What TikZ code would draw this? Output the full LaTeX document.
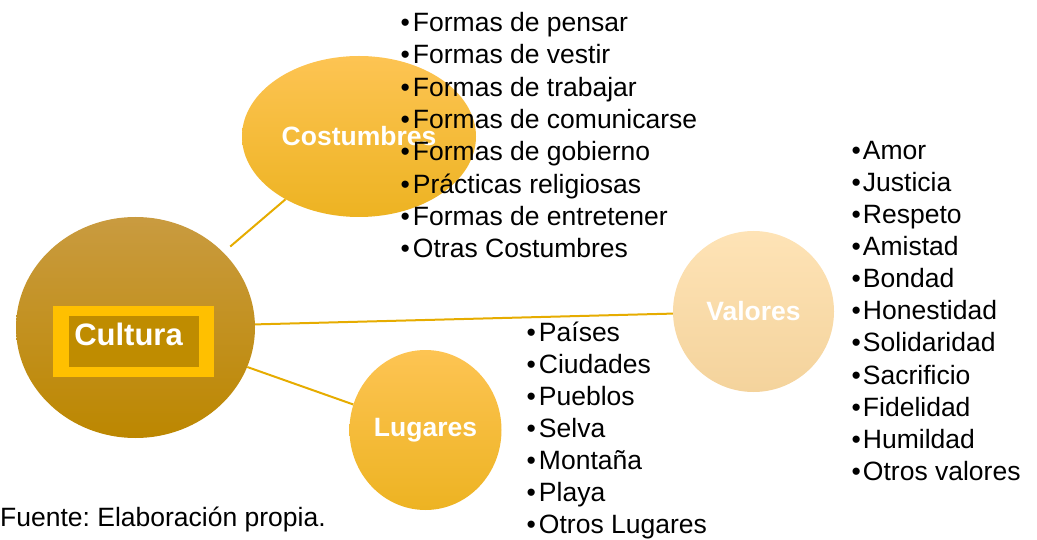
\documentclass[tikz,border=0pt]{standalone}
\usepackage{fontspec}
\setmainfont{Liberation Sans}
\usetikzlibrary{shapes.geometric}
\definecolor{goldline}{HTML}{E6AC00}
\definecolor{culttop}{HTML}{C99B40}
\definecolor{cultbot}{HTML}{BC8700}
\definecolor{boxouter}{HTML}{FFC000}
\definecolor{boxinner}{HTML}{BF8C00}
\definecolor{yeltop}{HTML}{FDC453}
\definecolor{yelbot}{HTML}{EDB322}
\definecolor{paletop}{HTML}{FEE3B6}
\definecolor{palebot}{HTML}{F4D39C}
\frenchspacing

\begin{document}
\begin{tikzpicture}[
  x=1pt, y=1pt,
  big_circle/.style={ellipse, inner sep=0pt, text=white, font=\fontsize{26.5}{31}\selectfont\bfseries},
  list_item/.style={anchor=base west, inner sep=0pt, font=\fontsize{26.5}{31}\selectfont},
  link/.style={draw=goldline, line width=2pt},
]
\useasboundingbox (0,0) rectangle (1037,-540);

\node (cult) [big_circle, minimum width=239pt, minimum height=221pt, top color=culttop, bottom color=cultbot] at (135.5,-327.5) {};
\fill[boxouter] (53,-306) rectangle (214,-377);
\fill[boxinner] (69,-316) rectangle (199,-367);
\node (cultura) [text=white, font=\fontsize{31}{37}\selectfont\bfseries] at (128.5,-334.4) {Cultura};

\node (cost) [big_circle, minimum width=234pt, minimum height=161pt, top color=yeltop, bottom color=yelbot] at (359,-136.5) {Costumbres};
\node (val) [big_circle, minimum width=161pt, minimum height=161pt, top color=paletop, bottom color=palebot] at (753.5,-311.5) {Valores};
\node (lug) [big_circle, minimum width=152pt, minimum height=160pt, top color=yeltop, bottom color=yelbot] at (425.5,-430) {Lugares};

\draw[link, shorten <=9pt] (cult) -- (cost);
\draw[link] (cult) -- (val);
\draw[link] (cult) -- (lug);

\foreach \txt [count=\i from 0] in {Formas de pensar, Formas de vestir, Formas de trabajar, Formas de comunicarse, Formas de gobierno, Prácticas religiosas, Formas de entretener, Otras Costumbres}
  \node (cst\i) [list_item] at (400.5,-31.7-32.3*\i) {\textbullet\hspace{3pt}\txt};

\foreach \txt [count=\i from 0] in {Amor, Justicia, Respeto, Amistad, Bondad, Honestidad, Solidaridad, Sacrificio, Fidelidad, Humildad, Otros valores}
  \node (vlr\i) [list_item] at (851.5,-159.3-32.1*\i) {\textbullet\hspace{2pt}\txt};

\foreach \txt [count=\i from 0] in {Países, Ciudades, Pueblos, Selva, Montaña, Playa, Otros Lugares}
  \node (lgr\i) [list_item] at (526.5,-341.7-31.9*\i) {\textbullet\hspace{3pt}\txt};

\node (fuente) [list_item] at (0,-526.7) {Fuente: Elaboración propia.};
\end{tikzpicture}
\end{document}
